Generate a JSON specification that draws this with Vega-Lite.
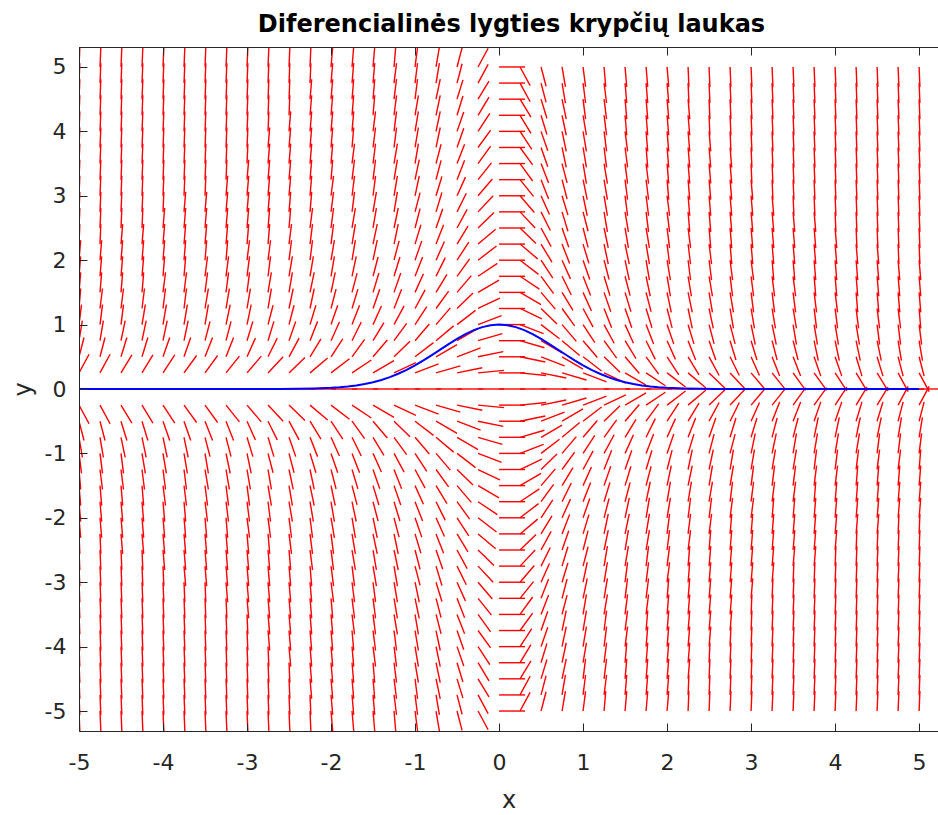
{
"$schema":"https://vega.github.io/schema/vega-lite/v6.json",
"width":859,"height":684,
"autosize":"none",
"padding":{"left":79,"top":47,"right":0,"bottom":84},
"background":"white",
"config":{"view":{"stroke":null},"font":"DejaVu Sans"},
"title":{"text":"Diferencialinės lygties krypčių laukas","font":"DejaVu Sans","fontSize":24,"fontWeight":"bold","color":"#000000","anchor":"middle","frame":"group","dx":3,"offset":-9,"baseline":"alphabetic"},
"datasets":{
"grid":[{"k":1,"y":[-5,-4.75,-4.5,-4.25,-4,-3.75,-3.5,-3.25,-3,-2.75,-2.5,-2.25,-2,-1.75,-1.5,-1.25,-1,-0.75,-0.5,-0.25,0,0.25,0.5,0.75,1,1.25,1.5,1.75,2,2.25,2.5,2.75,3,3.25,3.5,3.75,4,4.25,4.5,4.75,5]}],
"cols":[
{"k":1,"x":-5,"x2":[-4.99,-4.99,-4.99,-4.99,-4.99,-4.99,-4.99,-4.99,-4.99,-4.99,-4.99,-4.99,-4.98,-4.98,-4.98,-4.98,-4.97,-4.96,-4.94,-4.88,-4.69,-4.88,-4.94,-4.96,-4.97,-4.98,-4.98,-4.98,-4.98,-4.99,-4.99,-4.99,-4.99,-4.99,-4.99,-4.99,-4.99,-4.99,-4.99,-4.99,-4.99],"y2":[-5.31,-5.06,-4.81,-4.56,-4.31,-4.06,-3.81,-3.56,-3.31,-3.06,-2.81,-2.56,-2.31,-2.06,-1.81,-1.56,-1.31,-1.06,-0.8,-0.54,0,0.54,0.8,1.06,1.31,1.56,1.81,2.06,2.31,2.56,2.81,3.06,3.31,3.56,3.81,4.06,4.31,4.56,4.81,5.06,5.31]},
{"k":1,"x":-4.75,"x2":[-4.74,-4.74,-4.74,-4.74,-4.74,-4.74,-4.74,-4.74,-4.74,-4.74,-4.74,-4.74,-4.73,-4.73,-4.73,-4.72,-4.72,-4.71,-4.69,-4.63,-4.44,-4.63,-4.69,-4.71,-4.72,-4.72,-4.73,-4.73,-4.73,-4.74,-4.74,-4.74,-4.74,-4.74,-4.74,-4.74,-4.74,-4.74,-4.74,-4.74,-4.74],"y2":[-5.31,-5.06,-4.81,-4.56,-4.31,-4.06,-3.81,-3.56,-3.31,-3.06,-2.81,-2.56,-2.31,-2.06,-1.81,-1.56,-1.31,-1.06,-0.8,-0.54,0,0.54,0.8,1.06,1.31,1.56,1.81,2.06,2.31,2.56,2.81,3.06,3.31,3.56,3.81,4.06,4.31,4.56,4.81,5.06,5.31]},
{"k":1,"x":-4.5,"x2":[-4.49,-4.49,-4.49,-4.49,-4.49,-4.49,-4.49,-4.49,-4.49,-4.49,-4.49,-4.48,-4.48,-4.48,-4.48,-4.47,-4.47,-4.45,-4.43,-4.37,-4.19,-4.37,-4.43,-4.45,-4.47,-4.47,-4.48,-4.48,-4.48,-4.48,-4.49,-4.49,-4.49,-4.49,-4.49,-4.49,-4.49,-4.49,-4.49,-4.49,-4.49],"y2":[-5.31,-5.06,-4.81,-4.56,-4.31,-4.06,-3.81,-3.56,-3.31,-3.06,-2.81,-2.56,-2.31,-2.06,-1.81,-1.56,-1.31,-1.06,-0.8,-0.53,0,0.53,0.8,1.06,1.31,1.56,1.81,2.06,2.31,2.56,2.81,3.06,3.31,3.56,3.81,4.06,4.31,4.56,4.81,5.06,5.31]},
{"k":1,"x":-4.25,"x2":[-4.24,-4.24,-4.24,-4.24,-4.24,-4.24,-4.24,-4.24,-4.24,-4.24,-4.24,-4.23,-4.23,-4.23,-4.23,-4.22,-4.21,-4.2,-4.18,-4.12,-3.94,-4.12,-4.18,-4.2,-4.21,-4.22,-4.23,-4.23,-4.23,-4.23,-4.24,-4.24,-4.24,-4.24,-4.24,-4.24,-4.24,-4.24,-4.24,-4.24,-4.24],"y2":[-5.31,-5.06,-4.81,-4.56,-4.31,-4.06,-3.81,-3.56,-3.31,-3.06,-2.81,-2.56,-2.31,-2.06,-1.81,-1.56,-1.31,-1.06,-0.8,-0.53,0,0.53,0.8,1.06,1.31,1.56,1.81,2.06,2.31,2.56,2.81,3.06,3.31,3.56,3.81,4.06,4.31,4.56,4.81,5.06,5.31]},
{"k":1,"x":-4,"x2":[-3.99,-3.99,-3.99,-3.99,-3.99,-3.99,-3.99,-3.99,-3.99,-3.99,-3.98,-3.98,-3.98,-3.98,-3.97,-3.97,-3.96,-3.95,-3.92,-3.86,-3.69,-3.86,-3.92,-3.95,-3.96,-3.97,-3.97,-3.98,-3.98,-3.98,-3.98,-3.99,-3.99,-3.99,-3.99,-3.99,-3.99,-3.99,-3.99,-3.99,-3.99],"y2":[-5.31,-5.06,-4.81,-4.56,-4.31,-4.06,-3.81,-3.56,-3.31,-3.06,-2.81,-2.56,-2.31,-2.06,-1.81,-1.56,-1.31,-1.06,-0.8,-0.53,0,0.53,0.8,1.06,1.31,1.56,1.81,2.06,2.31,2.56,2.81,3.06,3.31,3.56,3.81,4.06,4.31,4.56,4.81,5.06,5.31]},
{"k":1,"x":-3.75,"x2":[-3.74,-3.74,-3.74,-3.74,-3.74,-3.74,-3.74,-3.74,-3.74,-3.73,-3.73,-3.73,-3.73,-3.73,-3.72,-3.72,-3.71,-3.7,-3.67,-3.6,-3.44,-3.6,-3.67,-3.7,-3.71,-3.72,-3.72,-3.73,-3.73,-3.73,-3.73,-3.73,-3.74,-3.74,-3.74,-3.74,-3.74,-3.74,-3.74,-3.74,-3.74],"y2":[-5.31,-5.06,-4.81,-4.56,-4.31,-4.06,-3.81,-3.56,-3.31,-3.06,-2.81,-2.56,-2.31,-2.06,-1.81,-1.56,-1.31,-1.06,-0.8,-0.52,0,0.52,0.8,1.06,1.31,1.56,1.81,2.06,2.31,2.56,2.81,3.06,3.31,3.56,3.81,4.06,4.31,4.56,4.81,5.06,5.31]},
{"k":1,"x":-3.5,"x2":[-3.49,-3.49,-3.49,-3.49,-3.49,-3.49,-3.49,-3.49,-3.49,-3.48,-3.48,-3.48,-3.48,-3.47,-3.47,-3.46,-3.46,-3.44,-3.41,-3.35,-3.19,-3.35,-3.41,-3.44,-3.46,-3.46,-3.47,-3.47,-3.48,-3.48,-3.48,-3.48,-3.49,-3.49,-3.49,-3.49,-3.49,-3.49,-3.49,-3.49,-3.49],"y2":[-5.31,-5.06,-4.81,-4.56,-4.31,-4.06,-3.81,-3.56,-3.31,-3.06,-2.81,-2.56,-2.31,-2.06,-1.81,-1.56,-1.31,-1.05,-0.8,-0.52,0,0.52,0.8,1.05,1.31,1.56,1.81,2.06,2.31,2.56,2.81,3.06,3.31,3.56,3.81,4.06,4.31,4.56,4.81,5.06,5.31]},
{"k":1,"x":-3.25,"x2":[-3.24,-3.24,-3.24,-3.24,-3.24,-3.24,-3.24,-3.24,-3.23,-3.23,-3.23,-3.23,-3.23,-3.22,-3.22,-3.21,-3.2,-3.19,-3.16,-3.09,-2.94,-3.09,-3.16,-3.19,-3.2,-3.21,-3.22,-3.22,-3.23,-3.23,-3.23,-3.23,-3.23,-3.24,-3.24,-3.24,-3.24,-3.24,-3.24,-3.24,-3.24],"y2":[-5.31,-5.06,-4.81,-4.56,-4.31,-4.06,-3.81,-3.56,-3.31,-3.06,-2.81,-2.56,-2.31,-2.06,-1.81,-1.56,-1.31,-1.05,-0.8,-0.51,0,0.51,0.8,1.05,1.31,1.56,1.81,2.06,2.31,2.56,2.81,3.06,3.31,3.56,3.81,4.06,4.31,4.56,4.81,5.06,5.31]},
{"k":1,"x":-3,"x2":[-2.99,-2.99,-2.99,-2.99,-2.99,-2.99,-2.99,-2.98,-2.98,-2.98,-2.98,-2.98,-2.97,-2.97,-2.97,-2.96,-2.95,-2.93,-2.9,-2.83,-2.69,-2.83,-2.9,-2.93,-2.95,-2.96,-2.97,-2.97,-2.97,-2.98,-2.98,-2.98,-2.98,-2.98,-2.99,-2.99,-2.99,-2.99,-2.99,-2.99,-2.99],"y2":[-5.31,-5.06,-4.81,-4.56,-4.31,-4.06,-3.81,-3.56,-3.31,-3.06,-2.81,-2.56,-2.31,-2.06,-1.81,-1.56,-1.31,-1.05,-0.79,-0.51,0,0.51,0.79,1.05,1.31,1.56,1.81,2.06,2.31,2.56,2.81,3.06,3.31,3.56,3.81,4.06,4.31,4.56,4.81,5.06,5.31]},
{"k":1,"x":-2.75,"x2":[-2.74,-2.74,-2.74,-2.74,-2.74,-2.73,-2.73,-2.73,-2.73,-2.73,-2.73,-2.73,-2.72,-2.72,-2.71,-2.71,-2.69,-2.68,-2.64,-2.57,-2.44,-2.57,-2.64,-2.68,-2.69,-2.71,-2.71,-2.72,-2.72,-2.73,-2.73,-2.73,-2.73,-2.73,-2.73,-2.73,-2.74,-2.74,-2.74,-2.74,-2.74],"y2":[-5.31,-5.06,-4.81,-4.56,-4.31,-4.06,-3.81,-3.56,-3.31,-3.06,-2.81,-2.56,-2.31,-2.06,-1.81,-1.56,-1.3,-1.05,-0.79,-0.5,0,0.5,0.79,1.05,1.3,1.56,1.81,2.06,2.31,2.56,2.81,3.06,3.31,3.56,3.81,4.06,4.31,4.56,4.81,5.06,5.31]},
{"k":1,"x":-2.5,"x2":[-2.49,-2.49,-2.49,-2.49,-2.48,-2.48,-2.48,-2.48,-2.48,-2.48,-2.48,-2.47,-2.47,-2.46,-2.46,-2.45,-2.44,-2.42,-2.38,-2.31,-2.19,-2.31,-2.38,-2.42,-2.44,-2.45,-2.46,-2.46,-2.47,-2.47,-2.48,-2.48,-2.48,-2.48,-2.48,-2.48,-2.48,-2.49,-2.49,-2.49,-2.49],"y2":[-5.31,-5.06,-4.81,-4.56,-4.31,-4.06,-3.81,-3.56,-3.31,-3.06,-2.81,-2.56,-2.31,-2.06,-1.81,-1.56,-1.3,-1.05,-0.79,-0.49,0,0.49,0.79,1.05,1.3,1.56,1.81,2.06,2.31,2.56,2.81,3.06,3.31,3.56,3.81,4.06,4.31,4.56,4.81,5.06,5.31]},
{"k":1,"x":-2.25,"x2":[-2.24,-2.24,-2.23,-2.23,-2.23,-2.23,-2.23,-2.23,-2.23,-2.23,-2.22,-2.22,-2.22,-2.21,-2.2,-2.2,-2.18,-2.16,-2.12,-2.04,-1.94,-2.04,-2.12,-2.16,-2.18,-2.2,-2.2,-2.21,-2.22,-2.22,-2.22,-2.23,-2.23,-2.23,-2.23,-2.23,-2.23,-2.23,-2.23,-2.24,-2.24],"y2":[-5.31,-5.06,-4.81,-4.56,-4.31,-4.06,-3.81,-3.56,-3.31,-3.06,-2.81,-2.56,-2.31,-2.06,-1.81,-1.56,-1.3,-1.05,-0.78,-0.48,0,0.48,0.78,1.05,1.3,1.56,1.81,2.06,2.31,2.56,2.81,3.06,3.31,3.56,3.81,4.06,4.31,4.56,4.81,5.06,5.31]},
{"k":1,"x":-2,"x2":[-1.98,-1.98,-1.98,-1.98,-1.98,-1.98,-1.98,-1.98,-1.97,-1.97,-1.97,-1.97,-1.96,-1.96,-1.95,-1.94,-1.92,-1.9,-1.86,-1.78,-1.69,-1.78,-1.86,-1.9,-1.92,-1.94,-1.95,-1.96,-1.96,-1.97,-1.97,-1.97,-1.97,-1.98,-1.98,-1.98,-1.98,-1.98,-1.98,-1.98,-1.98],"y2":[-5.31,-5.06,-4.81,-4.56,-4.31,-4.06,-3.81,-3.56,-3.31,-3.06,-2.81,-2.56,-2.31,-2.06,-1.81,-1.55,-1.3,-1.04,-0.78,-0.47,0,0.47,0.78,1.04,1.3,1.55,1.81,2.06,2.31,2.56,2.81,3.06,3.31,3.56,3.81,4.06,4.31,4.56,4.81,5.06,5.31]},
{"k":1,"x":-1.75,"x2":[-1.73,-1.73,-1.73,-1.73,-1.73,-1.73,-1.72,-1.72,-1.72,-1.72,-1.71,-1.71,-1.71,-1.7,-1.69,-1.68,-1.66,-1.64,-1.6,-1.52,-1.44,-1.52,-1.6,-1.64,-1.66,-1.68,-1.69,-1.7,-1.71,-1.71,-1.71,-1.72,-1.72,-1.72,-1.72,-1.73,-1.73,-1.73,-1.73,-1.73,-1.73],"y2":[-5.31,-5.06,-4.81,-4.56,-4.31,-4.06,-3.81,-3.56,-3.31,-3.06,-2.81,-2.56,-2.31,-2.06,-1.8,-1.55,-1.3,-1.04,-0.77,-0.45,0,0.45,0.77,1.04,1.3,1.55,1.8,2.06,2.31,2.56,2.81,3.06,3.31,3.56,3.81,4.06,4.31,4.56,4.81,5.06,5.31]},
{"k":1,"x":-1.5,"x2":[-1.48,-1.48,-1.48,-1.48,-1.47,-1.47,-1.47,-1.47,-1.47,-1.46,-1.46,-1.45,-1.45,-1.44,-1.43,-1.42,-1.4,-1.37,-1.33,-1.25,-1.19,-1.25,-1.33,-1.37,-1.4,-1.42,-1.43,-1.44,-1.45,-1.45,-1.46,-1.46,-1.47,-1.47,-1.47,-1.47,-1.47,-1.48,-1.48,-1.48,-1.48],"y2":[-5.31,-5.06,-4.81,-4.56,-4.31,-4.06,-3.81,-3.56,-3.31,-3.06,-2.81,-2.56,-2.31,-2.05,-1.8,-1.55,-1.29,-1.03,-0.76,-0.44,0,0.44,0.76,1.03,1.29,1.55,1.8,2.05,2.31,2.56,2.81,3.06,3.31,3.56,3.81,4.06,4.31,4.56,4.81,5.06,5.31]},
{"k":1,"x":-1.25,"x2":[-1.23,-1.22,-1.22,-1.22,-1.22,-1.22,-1.21,-1.21,-1.21,-1.21,-1.2,-1.2,-1.19,-1.18,-1.17,-1.16,-1.13,-1.1,-1.06,-0.99,-0.94,-0.99,-1.06,-1.1,-1.13,-1.16,-1.17,-1.18,-1.19,-1.2,-1.2,-1.21,-1.21,-1.21,-1.21,-1.22,-1.22,-1.22,-1.22,-1.22,-1.23],"y2":[-5.31,-5.06,-4.81,-4.56,-4.31,-4.06,-3.81,-3.56,-3.31,-3.06,-2.81,-2.56,-2.3,-2.05,-1.8,-1.55,-1.29,-1.02,-0.74,-0.41,0,0.41,0.74,1.02,1.29,1.55,1.8,2.05,2.3,2.56,2.81,3.06,3.31,3.56,3.81,4.06,4.31,4.56,4.81,5.06,5.31]},
{"k":1,"x":-1,"x2":[-0.97,-0.97,-0.97,-0.96,-0.96,-0.96,-0.96,-0.95,-0.95,-0.94,-0.94,-0.93,-0.92,-0.91,-0.9,-0.88,-0.86,-0.83,-0.78,-0.72,-0.69,-0.72,-0.78,-0.83,-0.86,-0.88,-0.9,-0.91,-0.92,-0.93,-0.94,-0.94,-0.95,-0.95,-0.96,-0.96,-0.96,-0.96,-0.97,-0.97,-0.97],"y2":[-5.31,-5.06,-4.81,-4.56,-4.31,-4.06,-3.81,-3.56,-3.31,-3.05,-2.8,-2.55,-2.3,-2.05,-1.79,-1.54,-1.28,-1.01,-0.72,-0.39,0,0.39,0.72,1.01,1.28,1.54,1.79,2.05,2.3,2.55,2.8,3.05,3.31,3.56,3.81,4.06,4.31,4.56,4.81,5.06,5.31]},
{"k":1,"x":-0.75,"x2":[-0.71,-0.71,-0.7,-0.7,-0.7,-0.7,-0.69,-0.69,-0.68,-0.68,-0.67,-0.66,-0.65,-0.64,-0.62,-0.6,-0.58,-0.54,-0.5,-0.46,-0.44,-0.46,-0.5,-0.54,-0.58,-0.6,-0.62,-0.64,-0.65,-0.66,-0.67,-0.68,-0.68,-0.69,-0.69,-0.7,-0.7,-0.7,-0.7,-0.71,-0.71],"y2":[-5.31,-5.06,-4.81,-4.56,-4.31,-4.06,-3.8,-3.55,-3.3,-3.05,-2.8,-2.55,-2.29,-2.04,-1.78,-1.52,-1.26,-0.98,-0.69,-0.36,0,0.36,0.69,0.98,1.26,1.52,1.78,2.04,2.29,2.55,2.8,3.05,3.3,3.55,3.8,4.06,4.31,4.56,4.81,5.06,5.31]},
{"k":1,"x":-0.5,"x2":[-0.44,-0.44,-0.43,-0.43,-0.42,-0.42,-0.41,-0.41,-0.4,-0.39,-0.38,-0.37,-0.36,-0.35,-0.33,-0.31,-0.28,-0.25,-0.22,-0.2,-0.19,-0.2,-0.22,-0.25,-0.28,-0.31,-0.33,-0.35,-0.36,-0.37,-0.38,-0.39,-0.4,-0.41,-0.41,-0.42,-0.42,-0.43,-0.43,-0.44,-0.44],"y2":[-5.3,-5.05,-4.8,-4.55,-4.3,-4.05,-3.8,-3.55,-3.29,-3.04,-2.79,-2.53,-2.28,-2.02,-1.76,-1.49,-1.22,-0.94,-0.64,-0.33,0,0.33,0.64,0.94,1.22,1.49,1.76,2.02,2.28,2.53,2.79,3.04,3.29,3.55,3.8,4.05,4.3,4.55,4.8,5.05,5.3]},
{"k":1,"x":-0.25,"x2":[-0.13,-0.13,-0.12,-0.12,-0.11,-0.1,-0.1,-0.09,-0.08,-0.07,-0.06,-0.04,-0.03,-0.02,0,0.01,0.03,0.04,0.05,0.06,0.06,0.06,0.05,0.04,0.03,0.01,0,-0.02,-0.03,-0.04,-0.06,-0.07,-0.08,-0.09,-0.1,-0.1,-0.11,-0.12,-0.12,-0.13,-0.13],"y2":[-5.29,-5.04,-4.78,-4.53,-4.28,-4.02,-3.77,-3.51,-3.26,-3,-2.74,-2.48,-2.22,-1.95,-1.69,-1.41,-1.14,-0.86,-0.58,-0.29,0,0.29,0.58,0.86,1.14,1.41,1.69,1.95,2.22,2.48,2.74,3,3.26,3.51,3.77,4.02,4.28,4.53,4.78,5.04,5.29]},
{"k":1,"x":0,"x2":[0.31,0.31,0.31,0.31,0.31,0.31,0.31,0.31,0.31,0.31,0.31,0.31,0.31,0.31,0.31,0.31,0.31,0.31,0.31,0.31,0.31,0.31,0.31,0.31,0.31,0.31,0.31,0.31,0.31,0.31,0.31,0.31,0.31,0.31,0.31,0.31,0.31,0.31,0.31,0.31,0.31],"y2":[-5,-4.75,-4.5,-4.25,-4,-3.75,-3.5,-3.25,-3,-2.75,-2.5,-2.25,-2,-1.75,-1.5,-1.25,-1,-0.75,-0.5,-0.25,0,0.25,0.5,0.75,1,1.25,1.5,1.75,2,2.25,2.5,2.75,3,3.25,3.5,3.75,4,4.25,4.5,4.75,5]},
{"k":1,"x":0.25,"x2":[0.37,0.37,0.38,0.38,0.39,0.4,0.4,0.41,0.42,0.43,0.44,0.46,0.47,0.48,0.5,0.51,0.53,0.54,0.55,0.56,0.56,0.56,0.55,0.54,0.53,0.51,0.5,0.48,0.47,0.46,0.44,0.43,0.42,0.41,0.4,0.4,0.39,0.38,0.38,0.37,0.37],"y2":[-4.71,-4.46,-4.22,-3.97,-3.72,-3.48,-3.23,-2.99,-2.74,-2.5,-2.26,-2.02,-1.78,-1.55,-1.31,-1.09,-0.86,-0.64,-0.42,-0.21,0,0.21,0.42,0.64,0.86,1.09,1.31,1.55,1.78,2.02,2.26,2.5,2.74,2.99,3.23,3.48,3.72,3.97,4.22,4.46,4.71]},
{"k":1,"x":0.5,"x2":[0.56,0.56,0.57,0.57,0.58,0.58,0.59,0.59,0.6,0.61,0.62,0.63,0.64,0.65,0.67,0.69,0.72,0.75,0.78,0.8,0.81,0.8,0.78,0.75,0.72,0.69,0.67,0.65,0.64,0.63,0.62,0.61,0.6,0.59,0.59,0.58,0.58,0.57,0.57,0.56,0.56],"y2":[-4.7,-4.45,-4.2,-3.95,-3.7,-3.45,-3.2,-2.95,-2.71,-2.46,-2.21,-1.97,-1.72,-1.48,-1.24,-1.01,-0.78,-0.56,-0.36,-0.17,0,0.17,0.36,0.56,0.78,1.01,1.24,1.48,1.72,1.97,2.21,2.46,2.71,2.95,3.2,3.45,3.7,3.95,4.2,4.45,4.7]},
{"k":1,"x":0.75,"x2":[0.79,0.79,0.8,0.8,0.8,0.8,0.81,0.81,0.82,0.82,0.83,0.84,0.85,0.86,0.88,0.9,0.92,0.96,1,1.04,1.06,1.04,1,0.96,0.92,0.9,0.88,0.86,0.85,0.84,0.83,0.82,0.82,0.81,0.81,0.8,0.8,0.8,0.8,0.79,0.79],"y2":[-4.69,-4.44,-4.19,-3.94,-3.69,-3.44,-3.2,-2.95,-2.7,-2.45,-2.2,-1.95,-1.71,-1.46,-1.22,-0.98,-0.74,-0.52,-0.31,-0.14,0,0.14,0.31,0.52,0.74,0.98,1.22,1.46,1.71,1.95,2.2,2.45,2.7,2.95,3.2,3.44,3.69,3.94,4.19,4.44,4.69]},
{"k":1,"x":1,"x2":[1.03,1.03,1.03,1.04,1.04,1.04,1.04,1.05,1.05,1.06,1.06,1.07,1.08,1.09,1.1,1.12,1.14,1.17,1.22,1.28,1.31,1.28,1.22,1.17,1.14,1.12,1.1,1.09,1.08,1.07,1.06,1.06,1.05,1.05,1.04,1.04,1.04,1.04,1.03,1.03,1.03],"y2":[-4.69,-4.44,-4.19,-3.94,-3.69,-3.44,-3.19,-2.94,-2.69,-2.45,-2.2,-1.95,-1.7,-1.45,-1.21,-0.96,-0.72,-0.49,-0.28,-0.11,0,0.11,0.28,0.49,0.72,0.96,1.21,1.45,1.7,1.95,2.2,2.45,2.69,2.94,3.19,3.44,3.69,3.94,4.19,4.44,4.69]},
{"k":1,"x":1.25,"x2":[1.27,1.28,1.28,1.28,1.28,1.28,1.29,1.29,1.29,1.29,1.3,1.3,1.31,1.32,1.33,1.34,1.37,1.4,1.44,1.51,1.56,1.51,1.44,1.4,1.37,1.34,1.33,1.32,1.31,1.3,1.3,1.29,1.29,1.29,1.29,1.28,1.28,1.28,1.28,1.28,1.27],"y2":[-4.69,-4.44,-4.19,-3.94,-3.69,-3.44,-3.19,-2.94,-2.69,-2.44,-2.19,-1.94,-1.7,-1.45,-1.2,-0.95,-0.71,-0.48,-0.26,-0.09,0,0.09,0.26,0.48,0.71,0.95,1.2,1.45,1.7,1.94,2.19,2.44,2.69,2.94,3.19,3.44,3.69,3.94,4.19,4.44,4.69]},
{"k":1,"x":1.5,"x2":[1.52,1.52,1.52,1.52,1.53,1.53,1.53,1.53,1.53,1.54,1.54,1.55,1.55,1.56,1.57,1.58,1.6,1.63,1.67,1.75,1.81,1.75,1.67,1.63,1.6,1.58,1.57,1.56,1.55,1.55,1.54,1.54,1.53,1.53,1.53,1.53,1.53,1.52,1.52,1.52,1.52],"y2":[-4.69,-4.44,-4.19,-3.94,-3.69,-3.44,-3.19,-2.94,-2.69,-2.44,-2.19,-1.94,-1.69,-1.45,-1.2,-0.95,-0.71,-0.47,-0.24,-0.06,0,0.06,0.24,0.47,0.71,0.95,1.2,1.45,1.69,1.94,2.19,2.44,2.69,2.94,3.19,3.44,3.69,3.94,4.19,4.44,4.69]},
{"k":1,"x":1.75,"x2":[1.77,1.77,1.77,1.77,1.77,1.77,1.78,1.78,1.78,1.78,1.79,1.79,1.79,1.8,1.81,1.82,1.84,1.86,1.9,1.98,2.06,1.98,1.9,1.86,1.84,1.82,1.81,1.8,1.79,1.79,1.79,1.78,1.78,1.78,1.78,1.77,1.77,1.77,1.77,1.77,1.77],"y2":[-4.69,-4.44,-4.19,-3.94,-3.69,-3.44,-3.19,-2.94,-2.69,-2.44,-2.19,-1.94,-1.69,-1.44,-1.2,-0.95,-0.7,-0.46,-0.23,-0.05,0,0.05,0.23,0.46,0.7,0.95,1.2,1.44,1.69,1.94,2.19,2.44,2.69,2.94,3.19,3.44,3.69,3.94,4.19,4.44,4.69]},
{"k":1,"x":2,"x2":[2.02,2.02,2.02,2.02,2.02,2.02,2.02,2.02,2.03,2.03,2.03,2.03,2.04,2.04,2.05,2.06,2.08,2.1,2.14,2.22,2.31,2.22,2.14,2.1,2.08,2.06,2.05,2.04,2.04,2.03,2.03,2.03,2.03,2.02,2.02,2.02,2.02,2.02,2.02,2.02,2.02],"y2":[-4.69,-4.44,-4.19,-3.94,-3.69,-3.44,-3.19,-2.94,-2.69,-2.44,-2.19,-1.94,-1.69,-1.44,-1.19,-0.95,-0.7,-0.46,-0.22,-0.03,0,0.03,0.22,0.46,0.7,0.95,1.19,1.44,1.69,1.94,2.19,2.44,2.69,2.94,3.19,3.44,3.69,3.94,4.19,4.44,4.69]},
{"k":1,"x":2.25,"x2":[2.26,2.26,2.27,2.27,2.27,2.27,2.27,2.27,2.27,2.27,2.28,2.28,2.28,2.29,2.3,2.3,2.32,2.34,2.38,2.46,2.56,2.46,2.38,2.34,2.32,2.3,2.3,2.29,2.28,2.28,2.28,2.27,2.27,2.27,2.27,2.27,2.27,2.27,2.27,2.26,2.26],"y2":[-4.69,-4.44,-4.19,-3.94,-3.69,-3.44,-3.19,-2.94,-2.69,-2.44,-2.19,-1.94,-1.69,-1.44,-1.19,-0.94,-0.7,-0.45,-0.22,-0.02,0,0.02,0.22,0.45,0.7,0.94,1.19,1.44,1.69,1.94,2.19,2.44,2.69,2.94,3.19,3.44,3.69,3.94,4.19,4.44,4.69]},
{"k":1,"x":2.5,"x2":[2.51,2.51,2.51,2.51,2.52,2.52,2.52,2.52,2.52,2.52,2.52,2.53,2.53,2.54,2.54,2.55,2.56,2.58,2.62,2.69,2.81,2.69,2.62,2.58,2.56,2.55,2.54,2.54,2.53,2.53,2.52,2.52,2.52,2.52,2.52,2.52,2.52,2.51,2.51,2.51,2.51],"y2":[-4.69,-4.44,-4.19,-3.94,-3.69,-3.44,-3.19,-2.94,-2.69,-2.44,-2.19,-1.94,-1.69,-1.44,-1.19,-0.94,-0.7,-0.45,-0.21,-0.01,0,0.01,0.21,0.45,0.7,0.94,1.19,1.44,1.69,1.94,2.19,2.44,2.69,2.94,3.19,3.44,3.69,3.94,4.19,4.44,4.69]},
{"k":1,"x":2.75,"x2":[2.76,2.76,2.76,2.76,2.76,2.77,2.77,2.77,2.77,2.77,2.77,2.77,2.78,2.78,2.79,2.79,2.81,2.82,2.86,2.93,3.06,2.93,2.86,2.82,2.81,2.79,2.79,2.78,2.78,2.77,2.77,2.77,2.77,2.77,2.77,2.77,2.76,2.76,2.76,2.76,2.76],"y2":[-4.69,-4.44,-4.19,-3.94,-3.69,-3.44,-3.19,-2.94,-2.69,-2.44,-2.19,-1.94,-1.69,-1.44,-1.19,-0.94,-0.7,-0.45,-0.21,0,0,0,0.21,0.45,0.7,0.94,1.19,1.44,1.69,1.94,2.19,2.44,2.69,2.94,3.19,3.44,3.69,3.94,4.19,4.44,4.69]},
{"k":1,"x":3,"x2":[3.01,3.01,3.01,3.01,3.01,3.01,3.01,3.02,3.02,3.02,3.02,3.02,3.03,3.03,3.03,3.04,3.05,3.07,3.1,3.17,3.31,3.17,3.1,3.07,3.05,3.04,3.03,3.03,3.03,3.02,3.02,3.02,3.02,3.02,3.01,3.01,3.01,3.01,3.01,3.01,3.01],"y2":[-4.69,-4.44,-4.19,-3.94,-3.69,-3.44,-3.19,-2.94,-2.69,-2.44,-2.19,-1.94,-1.69,-1.44,-1.19,-0.94,-0.69,-0.45,-0.21,0.01,0,-0.01,0.21,0.45,0.69,0.94,1.19,1.44,1.69,1.94,2.19,2.44,2.69,2.94,3.19,3.44,3.69,3.94,4.19,4.44,4.69]},
{"k":1,"x":3.25,"x2":[3.26,3.26,3.26,3.26,3.26,3.26,3.26,3.26,3.27,3.27,3.27,3.27,3.27,3.28,3.28,3.29,3.3,3.31,3.34,3.41,3.56,3.41,3.34,3.31,3.3,3.29,3.28,3.28,3.27,3.27,3.27,3.27,3.27,3.26,3.26,3.26,3.26,3.26,3.26,3.26,3.26],"y2":[-4.69,-4.44,-4.19,-3.94,-3.69,-3.44,-3.19,-2.94,-2.69,-2.44,-2.19,-1.94,-1.69,-1.44,-1.19,-0.94,-0.69,-0.45,-0.2,0.01,0,-0.01,0.2,0.45,0.69,0.94,1.19,1.44,1.69,1.94,2.19,2.44,2.69,2.94,3.19,3.44,3.69,3.94,4.19,4.44,4.69]},
{"k":1,"x":3.5,"x2":[3.51,3.51,3.51,3.51,3.51,3.51,3.51,3.51,3.51,3.52,3.52,3.52,3.52,3.53,3.53,3.54,3.54,3.56,3.59,3.65,3.81,3.65,3.59,3.56,3.54,3.54,3.53,3.53,3.52,3.52,3.52,3.52,3.51,3.51,3.51,3.51,3.51,3.51,3.51,3.51,3.51],"y2":[-4.69,-4.44,-4.19,-3.94,-3.69,-3.44,-3.19,-2.94,-2.69,-2.44,-2.19,-1.94,-1.69,-1.44,-1.19,-0.94,-0.69,-0.45,-0.2,0.02,0,-0.02,0.2,0.45,0.69,0.94,1.19,1.44,1.69,1.94,2.19,2.44,2.69,2.94,3.19,3.44,3.69,3.94,4.19,4.44,4.69]},
{"k":1,"x":3.75,"x2":[3.76,3.76,3.76,3.76,3.76,3.76,3.76,3.76,3.76,3.77,3.77,3.77,3.77,3.77,3.78,3.78,3.79,3.8,3.83,3.9,4.06,3.9,3.83,3.8,3.79,3.78,3.78,3.77,3.77,3.77,3.77,3.77,3.76,3.76,3.76,3.76,3.76,3.76,3.76,3.76,3.76],"y2":[-4.69,-4.44,-4.19,-3.94,-3.69,-3.44,-3.19,-2.94,-2.69,-2.44,-2.19,-1.94,-1.69,-1.44,-1.19,-0.94,-0.69,-0.44,-0.2,0.02,0,-0.02,0.2,0.44,0.69,0.94,1.19,1.44,1.69,1.94,2.19,2.44,2.69,2.94,3.19,3.44,3.69,3.94,4.19,4.44,4.69]},
{"k":1,"x":4,"x2":[4.01,4.01,4.01,4.01,4.01,4.01,4.01,4.01,4.01,4.01,4.02,4.02,4.02,4.02,4.03,4.03,4.04,4.05,4.08,4.14,4.31,4.14,4.08,4.05,4.04,4.03,4.03,4.02,4.02,4.02,4.02,4.01,4.01,4.01,4.01,4.01,4.01,4.01,4.01,4.01,4.01],"y2":[-4.69,-4.44,-4.19,-3.94,-3.69,-3.44,-3.19,-2.94,-2.69,-2.44,-2.19,-1.94,-1.69,-1.44,-1.19,-0.94,-0.69,-0.44,-0.2,0.03,0,-0.03,0.2,0.44,0.69,0.94,1.19,1.44,1.69,1.94,2.19,2.44,2.69,2.94,3.19,3.44,3.69,3.94,4.19,4.44,4.69]},
{"k":1,"x":4.25,"x2":[4.26,4.26,4.26,4.26,4.26,4.26,4.26,4.26,4.26,4.26,4.26,4.27,4.27,4.27,4.27,4.28,4.29,4.3,4.32,4.38,4.56,4.38,4.32,4.3,4.29,4.28,4.27,4.27,4.27,4.27,4.26,4.26,4.26,4.26,4.26,4.26,4.26,4.26,4.26,4.26,4.26],"y2":[-4.69,-4.44,-4.19,-3.94,-3.69,-3.44,-3.19,-2.94,-2.69,-2.44,-2.19,-1.94,-1.69,-1.44,-1.19,-0.94,-0.69,-0.44,-0.2,0.03,0,-0.03,0.2,0.44,0.69,0.94,1.19,1.44,1.69,1.94,2.19,2.44,2.69,2.94,3.19,3.44,3.69,3.94,4.19,4.44,4.69]},
{"k":1,"x":4.5,"x2":[4.51,4.51,4.51,4.51,4.51,4.51,4.51,4.51,4.51,4.51,4.51,4.52,4.52,4.52,4.52,4.53,4.53,4.55,4.57,4.63,4.81,4.63,4.57,4.55,4.53,4.53,4.52,4.52,4.52,4.52,4.51,4.51,4.51,4.51,4.51,4.51,4.51,4.51,4.51,4.51,4.51],"y2":[-4.69,-4.44,-4.19,-3.94,-3.69,-3.44,-3.19,-2.94,-2.69,-2.44,-2.19,-1.94,-1.69,-1.44,-1.19,-0.94,-0.69,-0.44,-0.2,0.03,0,-0.03,0.2,0.44,0.69,0.94,1.19,1.44,1.69,1.94,2.19,2.44,2.69,2.94,3.19,3.44,3.69,3.94,4.19,4.44,4.69]},
{"k":1,"x":4.75,"x2":[4.76,4.76,4.76,4.76,4.76,4.76,4.76,4.76,4.76,4.76,4.76,4.76,4.77,4.77,4.77,4.78,4.78,4.79,4.81,4.87,5.06,4.87,4.81,4.79,4.78,4.78,4.77,4.77,4.77,4.76,4.76,4.76,4.76,4.76,4.76,4.76,4.76,4.76,4.76,4.76,4.76],"y2":[-4.69,-4.44,-4.19,-3.94,-3.69,-3.44,-3.19,-2.94,-2.69,-2.44,-2.19,-1.94,-1.69,-1.44,-1.19,-0.94,-0.69,-0.44,-0.2,0.04,0,-0.04,0.2,0.44,0.69,0.94,1.19,1.44,1.69,1.94,2.19,2.44,2.69,2.94,3.19,3.44,3.69,3.94,4.19,4.44,4.69]},
{"k":1,"x":5,"x2":[5.01,5.01,5.01,5.01,5.01,5.01,5.01,5.01,5.01,5.01,5.01,5.01,5.02,5.02,5.02,5.02,5.03,5.04,5.06,5.12,5.31,5.12,5.06,5.04,5.03,5.02,5.02,5.02,5.02,5.01,5.01,5.01,5.01,5.01,5.01,5.01,5.01,5.01,5.01,5.01,5.01],"y2":[-4.69,-4.44,-4.19,-3.94,-3.69,-3.44,-3.19,-2.94,-2.69,-2.44,-2.19,-1.94,-1.69,-1.44,-1.19,-0.94,-0.69,-0.44,-0.2,0.04,0,-0.04,0.2,0.44,0.69,0.94,1.19,1.44,1.69,1.94,2.19,2.44,2.69,2.94,3.19,3.44,3.69,3.94,4.19,4.44,4.69]}
],
"curve":[{"x":-5,"y":0},{"x":-4,"y":0},{"x":-3,"y":0.0001},{"x":-2.6,"y":0.0012},{"x":-2.4,"y":0.0032},{"x":-2.2,"y":0.0079},{"x":-2,"y":0.0183},{"x":-1.9,"y":0.0271},{"x":-1.8,"y":0.0392},{"x":-1.7,"y":0.0556},{"x":-1.6,"y":0.0773},{"x":-1.5,"y":0.1054},{"x":-1.4,"y":0.1409},{"x":-1.3,"y":0.1845},{"x":-1.2,"y":0.2369},{"x":-1.1,"y":0.2982},{"x":-1,"y":0.3679},{"x":-0.9,"y":0.4449},{"x":-0.8,"y":0.5273},{"x":-0.7,"y":0.6126},{"x":-0.6,"y":0.6977},{"x":-0.5,"y":0.7788},{"x":-0.4,"y":0.8521},{"x":-0.3,"y":0.9139},{"x":-0.2,"y":0.9608},{"x":-0.1,"y":0.99},{"x":0,"y":1},{"x":0.1,"y":0.99},{"x":0.2,"y":0.9608},{"x":0.3,"y":0.9139},{"x":0.4,"y":0.8521},{"x":0.5,"y":0.7788},{"x":0.6,"y":0.6977},{"x":0.7,"y":0.6126},{"x":0.8,"y":0.5273},{"x":0.9,"y":0.4449},{"x":1,"y":0.3679},{"x":1.1,"y":0.2982},{"x":1.2,"y":0.2369},{"x":1.3,"y":0.1845},{"x":1.4,"y":0.1409},{"x":1.5,"y":0.1054},{"x":1.6,"y":0.0773},{"x":1.7,"y":0.0556},{"x":1.8,"y":0.0392},{"x":1.9,"y":0.0271},{"x":2,"y":0.0183},{"x":2.2,"y":0.0079},{"x":2.4,"y":0.0032},{"x":2.6,"y":0.0012},{"x":3,"y":0.0001},{"x":4,"y":0},{"x":5,"y":0}]
},
"resolve":{"axis":{"x":"independent"}},
"layer":[
{"data":{"name":"cols"},
"transform":[{"lookup":"k","from":{"data":{"name":"grid"},"key":"k","fields":["y"]}},{"flatten":["y","x2","y2"]}],
"mark":{"type":"rule","color":"#ff0000","strokeWidth":1.4,"clip":true},
"encoding":{
"x":{"field":"x","type":"quantitative","scale":{"domain":[-5,5.225],"nice":false,"zero":false},"axis":{"orient":"bottom","zindex":1,"values":[-5,-4,-3,-2,-1,0,1,2,3,4,5],"labelExpr":"'' + datum.value","title":"x","grid":false,"domainColor":"#262626","domainWidth":1,"tickColor":"#262626","tickSize":-8,"tickWidth":1,"labelFont":"DejaVu Sans","labelFontSize":22,"labelColor":"#262626","labelPadding":29,"labelFlush":false,"labelOverlap":false,"titleFont":"DejaVu Sans","titleFontSize":24,"titleFontWeight":"normal","titleColor":"#262626","titlePadding":15}},
"x2":{"field":"x2"},
"y":{"field":"y","type":"quantitative","scale":{"domain":[-5.31,5.31],"nice":false,"zero":false},"axis":{"orient":"left","zindex":1,"values":[-5,-4,-3,-2,-1,0,1,2,3,4,5],"labelExpr":"'' + datum.value","title":"y","grid":false,"domainColor":"#262626","domainWidth":1,"tickColor":"#262626","tickSize":-8,"tickWidth":1,"labelFont":"DejaVu Sans","labelFontSize":22,"labelColor":"#262626","labelPadding":21,"labelFlush":false,"labelOverlap":false,"titleFont":"DejaVu Sans","titleFontSize":24,"titleFontWeight":"normal","titleColor":"#262626","titlePadding":9}},
"y2":{"field":"y2"}
}},
{"data":{"name":"curve"},
"mark":{"type":"line","color":"#0000ff","strokeWidth":2,"clip":true},
"encoding":{
"x":{"field":"x","type":"quantitative","axis":{"orient":"top","zindex":1,"values":[-5,-4,-3,-2,-1,0,1,2,3,4,5],"labels":false,"title":null,"grid":false,"domainColor":"#262626","domainWidth":1,"tickColor":"#262626","tickSize":-8,"tickWidth":1}},
"y":{"field":"y","type":"quantitative"}
}}
]
}
